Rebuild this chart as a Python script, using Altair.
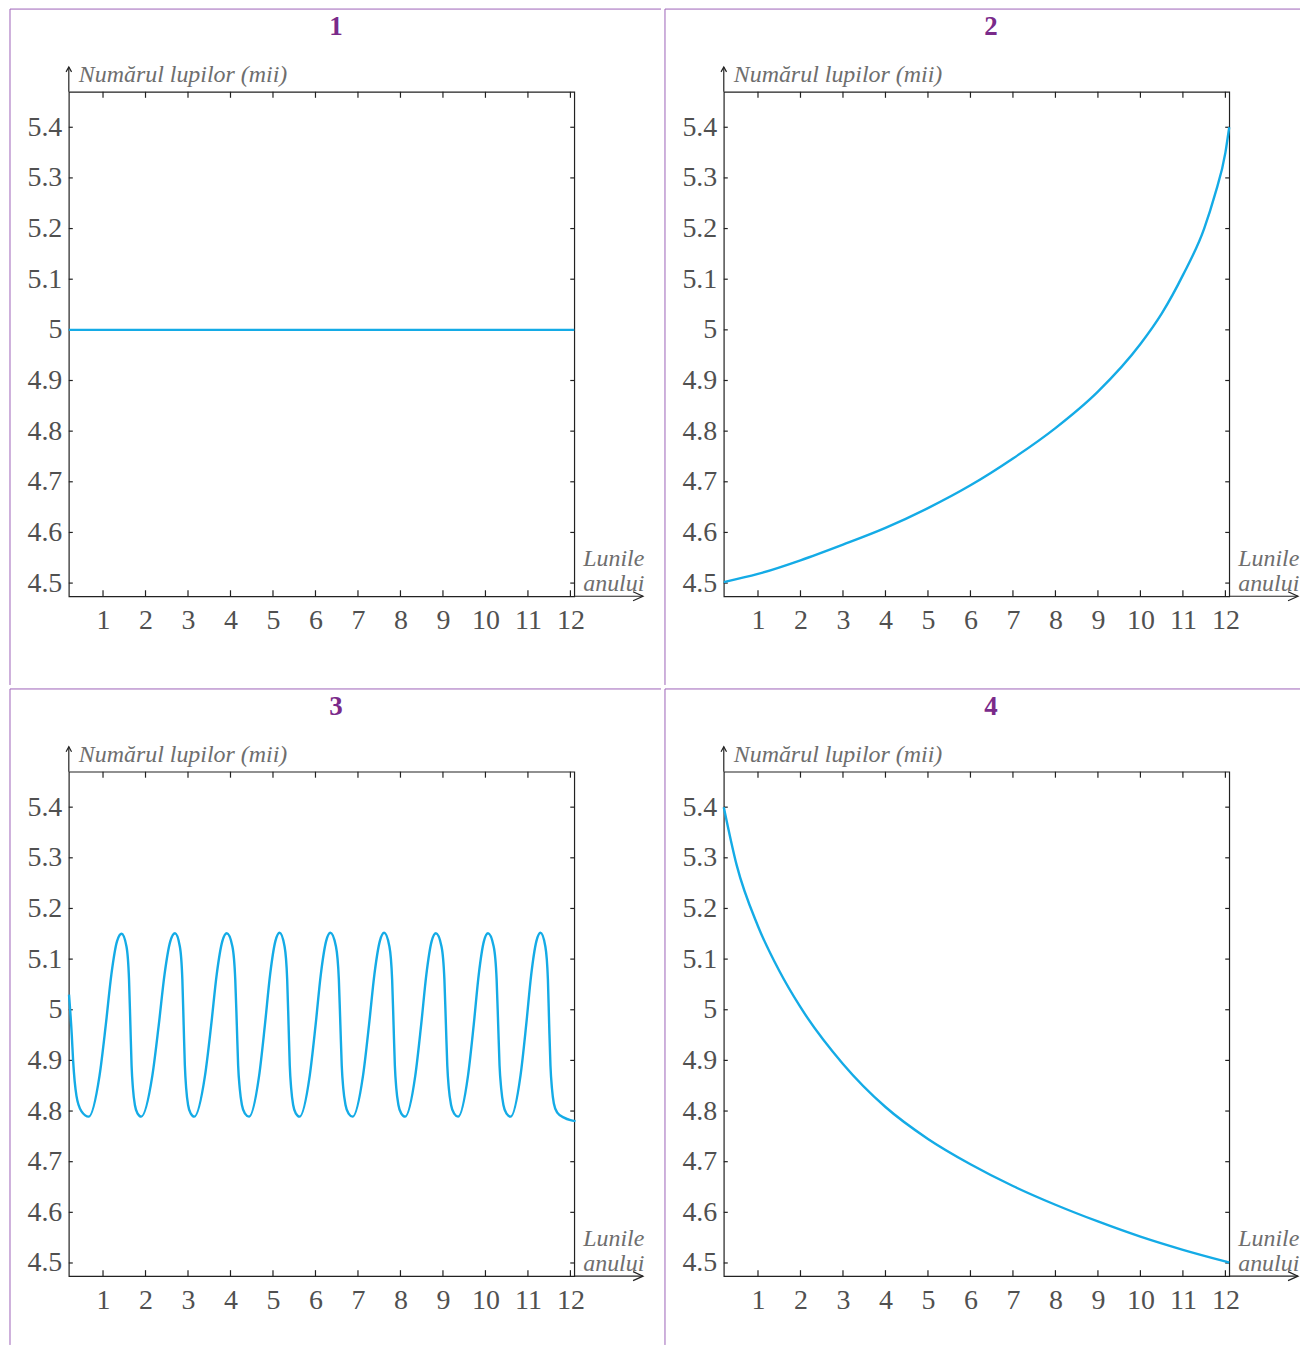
import altair as alt
import pandas as pd

# ---------------- data ----------------
PANEL_TITLES = ["1", "2", "3", "4"]
Y_AXIS_TITLE = "Numărul lupilor (mii)"
X_AXIS_TITLE = ["Lunile", "anului"]
MONTH_TICKS = [1, 2, 3, 4, 5, 6, 7, 8, 9, 10, 11, 12]
VALUE_TICKS = [4.5, 4.6, 4.7, 4.8, 4.9, 5.0, 5.1, 5.2, 5.3, 5.4]

p1_month = [0.195, 12.09]
p1_value = [5.0, 5.0]

p2_month = [0.195, 1, 2, 3, 4, 5, 6, 7, 8, 9, 10, 10.5, 11, 11.5, 11.75, 12, 12.09]
p2_value = [4.502, 4.518, 4.545, 4.576, 4.609, 4.648, 4.693, 4.746, 4.806, 4.878,
            4.972, 5.032, 5.108, 5.200, 5.266, 5.350, 5.40]

p3_month = [
    0.20, 0.265, 0.296, 0.375, 0.49, 0.663,
    0.918, 1.065, 1.197, 1.329, 1.437,
    1.552, 1.612, 1.644, 1.672, 1.704, 1.750, 1.815, 1.898,
    2.161, 2.312, 2.448, 2.583, 2.695,
    2.808, 2.867, 2.898, 2.926, 2.957, 3.002, 3.066, 3.147,
    3.400, 3.546, 3.676, 3.807, 3.914,
    4.045, 4.112, 4.149, 4.180, 4.217, 4.269, 4.342, 4.436,
    4.674, 4.810, 4.933, 5.055, 5.156,
    5.273, 5.334, 5.367, 5.395, 5.428, 5.475, 5.541, 5.625,
    5.865, 6.003, 6.126, 6.249, 6.351,
    6.482, 6.550, 6.586, 6.618, 6.654, 6.707, 6.780, 6.874,
    7.119, 7.260, 7.387, 7.513, 7.617,
    7.740, 7.804, 7.838, 7.868, 7.902, 7.952, 8.020, 8.109,
    8.349, 8.487, 8.610, 8.733, 8.835,
    8.966, 9.034, 9.070, 9.102, 9.138, 9.191, 9.264, 9.358,
    9.590, 9.724, 9.843, 9.963, 10.061,
    10.194, 10.263, 10.300, 10.332, 10.370, 10.423, 10.497, 10.593,
    10.825, 10.959, 11.078, 11.198, 11.296,
    11.41, 11.47, 11.50, 11.53, 11.565, 11.61, 11.69, 11.85, 12.0, 12.12,
]
p3_value = [
    5.03, 4.95, 4.90, 4.83, 4.80, 4.789,
    4.87, 4.97, 5.07, 5.135, 5.150,
    5.125, 5.06, 4.97, 4.89, 4.845, 4.812, 4.795, 4.789,
    4.87, 4.97, 5.07, 5.135, 5.151,
    5.125, 5.06, 4.97, 4.89, 4.845, 4.812, 4.795, 4.789,
    4.87, 4.97, 5.07, 5.135, 5.151,
    5.125, 5.06, 4.97, 4.89, 4.845, 4.812, 4.795, 4.789,
    4.87, 4.97, 5.07, 5.135, 5.152,
    5.125, 5.06, 4.97, 4.89, 4.845, 4.812, 4.795, 4.789,
    4.87, 4.97, 5.07, 5.135, 5.152,
    5.125, 5.06, 4.97, 4.89, 4.845, 4.812, 4.795, 4.789,
    4.87, 4.97, 5.07, 5.135, 5.152,
    5.125, 5.06, 4.97, 4.89, 4.845, 4.812, 4.795, 4.789,
    4.87, 4.97, 5.07, 5.135, 5.151,
    5.125, 5.06, 4.97, 4.89, 4.845, 4.812, 4.795, 4.789,
    4.87, 4.97, 5.07, 5.135, 5.151,
    5.125, 5.06, 4.97, 4.89, 4.845, 4.812, 4.795, 4.789,
    4.87, 4.97, 5.07, 5.135, 5.152,
    5.125, 5.06, 4.97, 4.89, 4.845, 4.815, 4.797, 4.787, 4.782, 4.780,
]

p4_month = [0.195, 0.5, 1, 1.5, 2, 3, 4, 5, 6, 7, 8, 9, 10, 11, 12, 12.09]
p4_value = [5.40, 5.285, 5.165, 5.077, 5.005, 4.893, 4.808, 4.745, 4.695, 4.652,
            4.615, 4.582, 4.552, 4.526, 4.503, 4.501]

SERIES = [(p1_month, p1_value), (p2_month, p2_value),
          (p3_month, p3_value), (p4_month, p4_value)]

# ---------------- style ----------------
W, H = 507, 506
X_DOMAIN = [0.195, 12.09]
Y_DOMAIN = [4.474, 5.470]
SERIF = "Liberation Serif, Times New Roman, Times, serif"
LINE_COLOR = "#14abe6"
FRAME = "#222222"
LABEL = "#505050"
TITLE_GRAY = "#6e6e6e"
PURPLE = "#7a2a8a"
BORDER = "#9d62b8"


def make_panel(idx):
    col, row = idx % 2, idx // 2
    months, values = SERIES[idx]
    xs = alt.Scale(domain=X_DOMAIN, nice=False, zero=False)
    ys = alt.Scale(domain=Y_DOMAIN, nice=False, zero=False)
    ax = alt.Axis(values=MONTH_TICKS, title=None, domain=False, ticks=False, grid=False,
                  labelFont=SERIF, labelFontSize=28, labelColor=LABEL, labelPadding=10,
                  labelFlush=False, labelOverlap=False)
    ay = alt.Axis(values=VALUE_TICKS, format="~g", title=None, domain=False, ticks=False,
                  grid=False, labelFont=SERIF, labelFontSize=28, labelColor=LABEL,
                  labelPadding=7, labelFlush=False, labelOverlap=False)

    df = pd.DataFrame({"m": months, "v": values})
    xt = pd.DataFrame({"m": MONTH_TICKS})
    yt = pd.DataFrame({"v": VALUE_TICKS})
    one = pd.DataFrame({"k": [0]})

    line = alt.Chart(df).mark_line(color=LINE_COLOR, strokeWidth=2.4,
                                   interpolate="monotone").encode(
        x=alt.X("m:Q", scale=xs, axis=ax), y=alt.Y("v:Q", scale=ys, axis=ay))

    tick_style = dict(color=FRAME, strokeWidth=1.2)
    xb = alt.Chart(xt).mark_rule(**tick_style).encode(
        x=alt.X("m:Q", scale=xs, axis=ax), y=alt.value(H), y2=alt.value(H - 6))
    xtp = alt.Chart(xt).mark_rule(**tick_style).encode(
        x=alt.X("m:Q", scale=xs, axis=ax), y=alt.value(0), y2=alt.value(6))
    yl = alt.Chart(yt).mark_rule(**tick_style).encode(
        y=alt.Y("v:Q", scale=ys, axis=ay), x=alt.value(0), x2=alt.value(4))
    yr = alt.Chart(yt).mark_rule(**tick_style).encode(
        y=alt.Y("v:Q", scale=ys, axis=ay), x=alt.value(W - 4), x2=alt.value(W))

    base = alt.Chart(one)
    arrow_x = base.mark_rule(color=FRAME, strokeWidth=1.2).encode(
        x=alt.value(W), x2=alt.value(576), y=alt.value(H))
    arrow_y = base.mark_rule(color=FRAME, strokeWidth=1.2).encode(
        x=alt.value(0), y=alt.value(0), y2=alt.value(-25))
    head_x = base.mark_point(shape="M -1 -0.45 L 0 0 L -1 0.45", size=400, filled=False,
                             color=FRAME, strokeWidth=1.2, opacity=1).encode(
        x=alt.value(576), y=alt.value(H))
    head_y = base.mark_point(shape="M -0.55 1 L 0 0 L 0.55 1", size=100, filled=False,
                             color=FRAME, strokeWidth=1.2, opacity=1).encode(
        x=alt.value(0), y=alt.value(-25))

    title = base.mark_text(text=PANEL_TITLES[idx], font=SERIF, fontSize=27,
                           fontWeight="bold", color=PURPLE, align="center",
                           baseline="middle").encode(x=alt.value(268), y=alt.value(-65))
    txt = dict(font=SERIF, fontSize=24, fontStyle="italic", color=TITLE_GRAY,
               align="left", baseline="alphabetic")
    ytitle = base.mark_text(text=Y_AXIS_TITLE, **txt).encode(
        x=alt.value(10), y=alt.value(-10))
    xt1 = base.mark_text(text=X_AXIS_TITLE[0], **txt).encode(
        x=alt.value(516), y=alt.value(476))
    xt2 = base.mark_text(text=X_AXIS_TITLE[1], **txt).encode(
        x=alt.value(516), y=alt.value(501))

    left_bottom = 595 if row == 0 else 575
    top_right = 594 if col == 0 else 578
    border_l = base.mark_rule(color=BORDER, strokeWidth=1).encode(
        x=alt.value(-59), y=alt.value(-83), y2=alt.value(left_bottom))
    border_t = base.mark_rule(color=BORDER, strokeWidth=1).encode(
        x=alt.value(-59), x2=alt.value(top_right), y=alt.value(-83))

    return alt.layer(border_l, border_t, xb, xtp, yl, yr, arrow_x, arrow_y, head_x, head_y,
                     line, title, ytitle, xt1, xt2).properties(width=W, height=H)


panels = [make_panel(i) for i in range(4)]
chart = alt.vconcat(
    alt.hconcat(panels[0], panels[1], spacing=0),
    alt.hconcat(panels[2], panels[3], spacing=0),
    spacing=0,
).properties(
    padding={"left": 0, "top": -3, "right": 0, "bottom": 0}
).configure_view(
    stroke=FRAME, strokeWidth=1.2
)

chart.save("out.html", embed_options={"renderer": "svg", "actions": False})
